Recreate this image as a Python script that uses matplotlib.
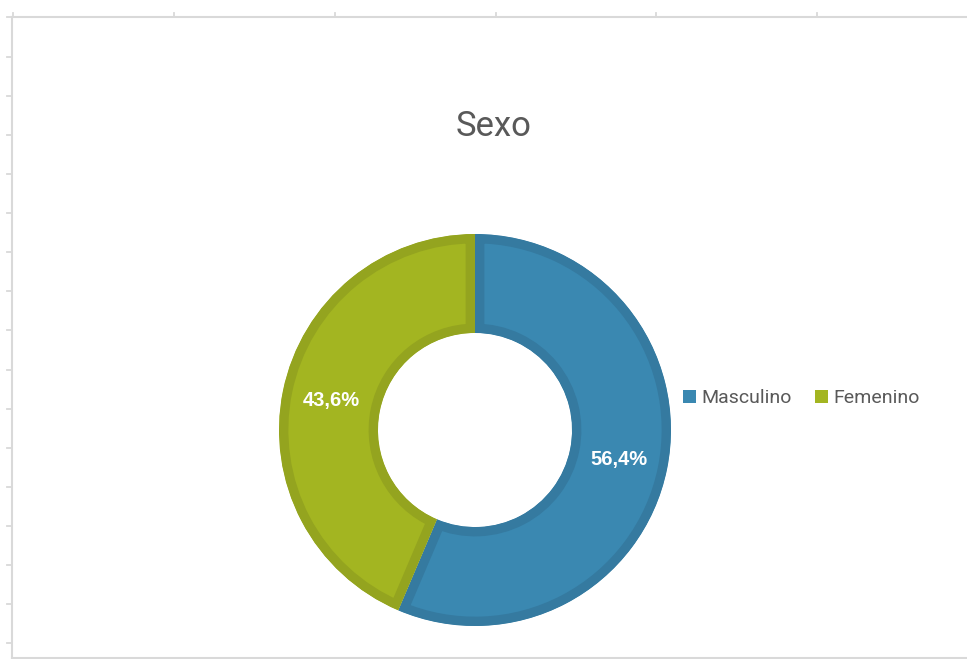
import matplotlib
matplotlib.use("Agg")
import matplotlib.pyplot as plt
from matplotlib.patches import Patch
from matplotlib.lines import Line2D

# Data
categories = ["Masculino", "Femenino"]
shares = [56.4, 43.6]
value_labels = ["56,4%", "43,6%"]
title = "Sexo"

fill_colors = ["#3A88B1", "#A3B521"]
edge_colors = ["#357AA0", "#94A41F"]
text_gray = "#595959"
frame_gray = "#D9D9D9"

W, H = 967, 659
fig = plt.figure(figsize=(W / 100, H / 100), dpi=100)
fig.patch.set_facecolor("white")


def fx(px):
    return px / W


def fy(py):
    return 1 - py / H


# Sheet frame with column / row ticks
frame_top, frame_left, frame_bottom = 16.5, 11.5, 657.5
fig.add_artist(Line2D([fx(frame_left), 1], [fy(frame_top)] * 2, color=frame_gray, lw=1.5))
fig.add_artist(Line2D([fx(frame_left)] * 2, [fy(frame_top), fy(frame_bottom)], color=frame_gray, lw=1.5))
fig.add_artist(Line2D([fx(frame_left), 1], [fy(frame_bottom)] * 2, color=frame_gray, lw=1.5))
for x in [12.5] + [174 + 160.75 * k for k in range(5)]:
    fig.add_artist(Line2D([fx(x)] * 2, [fy(12.5), fy(frame_top)], color=frame_gray, lw=1.3))
for y in [16.5] + [57 + 39.07 * k for k in range(16)]:
    fig.add_artist(Line2D([fx(7), fx(frame_left)], [fy(y)] * 2, color=frame_gray, lw=1.3))

# Doughnut
cx, cy, r = 475, 430, 196
ax = fig.add_axes([fx(cx - r), fy(cy + r), 2 * r / W, 2 * r / H])

wedges, texts, autotexts = ax.pie(
    shares,
    colors=fill_colors,
    startangle=90,
    counterclock=False,
    radius=1,
    wedgeprops=dict(width=0.505),
    autopct="%1.1f",
    pctdistance=0.748,
    textprops=dict(color="white", fontsize=14.5, fontweight="bold", family="Liberation Sans"),
)
ax.set_aspect("auto")
ax.set_xlim(-1, 1)
ax.set_ylim(-1, 1)
ax.axis("off")
# Inner border: a wide stroke clipped to each wedge's own outline
for w, ec in zip(wedges, edge_colors):
    w.set_edgecolor(ec)
    w.set_linewidth(13.5)
    w.set_clip_on(True)
    w.set_clip_path(w)
for t, lab in zip(autotexts, value_labels):
    t.set_text(lab)

fig.text(fx(494), fy(127), title, ha="center", va="center",
         fontsize=25, color=text_gray, family="Roboto")

handles = [Patch(facecolor=c, edgecolor="none") for c in fill_colors]
fig.legend(handles, categories, loc="center left",
           bbox_to_anchor=(fx(675), fy(398)), ncol=2, frameon=False,
           handlelength=0.68, handleheight=0.68, handletextpad=0.3,
           columnspacing=1.15, borderaxespad=0,
           prop=dict(family="Roboto", size=14), labelcolor=text_gray)

fig.savefig("out.png", dpi=100, facecolor="white")
